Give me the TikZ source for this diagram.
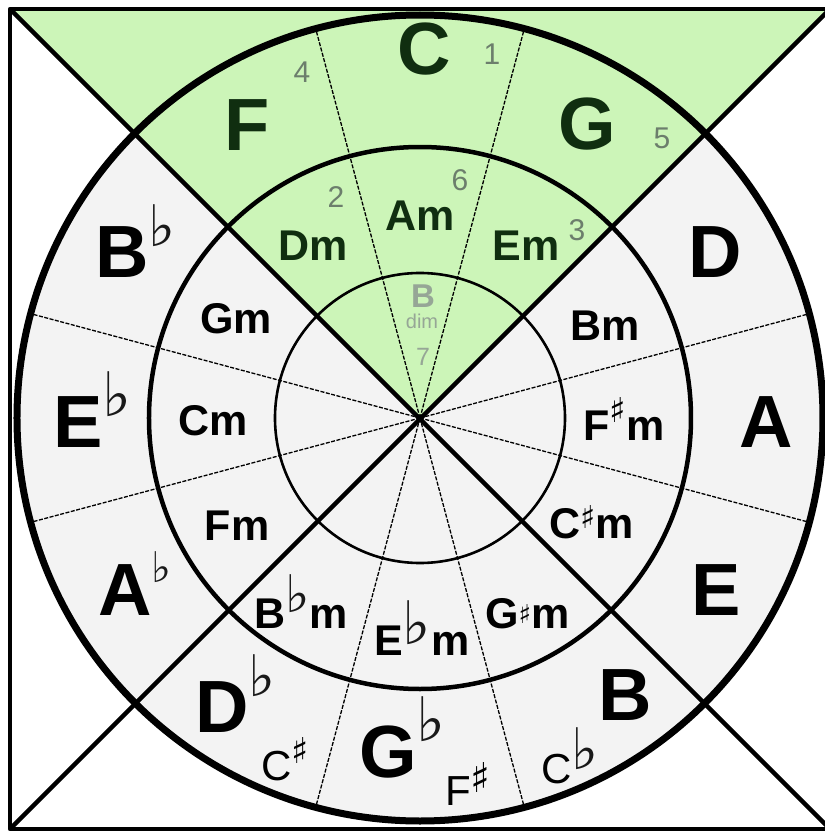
\documentclass[tikz,border=0pt]{standalone}
\usepackage{graphicx}
\usepackage{fontspec}
\setmainfont{Liberation Sans}
\newfontfamily\accfont{DejaVu Sans}
\usetikzlibrary{positioning}
\definecolor{keygreen}{RGB}{204,245,184}
\definecolor{ringgray}{RGB}{243,243,243}
\definecolor{leafdark}{RGB}{16,46,16}
\definecolor{degreegray}{RGB}{108,126,108}
\definecolor{dimgray}{RGB}{150,166,150}

% raised accidentals: #1 bottom above baseline, #2 glyph height
\newcommand{\flatup}[2]{\raisebox{#1}{\resizebox*{!}{#2}{\accfont\color{black!90}\raisebox{\depth}{♭}}}}
\newcommand{\sharpup}[2]{\raisebox{#1}{\resizebox*{!}{#2}{\accfont\raisebox{\depth}{♯}}}}

\tikzset{
  majkey/.style={inner sep=0pt,font=\fontsize{74}{74}\selectfont\bfseries},
  minkey/.style={inner sep=0pt,font=\fontsize{43}{43}\selectfont\bfseries},
  enhkey/.style={inner sep=0pt,font=\fontsize{42}{42}\selectfont},
  degnum/.style={inner sep=0pt,text=degreegray,font=\fontsize{30}{30}\selectfont},
  ray/.style={line width=1.3pt,dash pattern=on 4pt off 1.5pt},
  diag/.style={line width=4.5pt}
}

\begin{document}
\begin{tikzpicture}[x=1pt,y=1pt]
  \useasboundingbox (-420,-413) rectangle (405,418);
  \clip (-420,-413) rectangle (405,418);
  \coordinate (tl) at (-410,409);
  \coordinate (tr) at (410,409);
  \coordinate (bl) at (-410,-411);
  \coordinate (br) at (410,-411);
  \coordinate (hub) at (0,0);

  % backgrounds
  \fill[white] (tl) rectangle (br);
  \fill[ringgray] (hub) circle (403);
  \fill[keygreen] (tl) -- (tr) -- (hub) -- cycle;

  % sector rays
  \foreach \a in {15,75,105,165,195,255,285,345}
    \draw[ray] (hub) -- (\a:403);

  % rings
  \draw[line width=2.6pt] (hub) circle (145);
  \draw[line width=4.5pt] (hub) circle (271);
  \draw[line width=7pt] (hub) circle (403);

  % diagonals and frame
  \draw[diag] (tl) -- (br);
  \draw[diag] (tr) -- (bl);
  \draw[line width=4.5pt,line join=round] (tl) rectangle (br);

  % major keys
  \node[majkey,text=leafdark,anchor=base] (keyC) at (4,344) {C};
  \node[majkey,text=leafdark,anchor=base] (keyF) at (-173,268) {F};
  \node[majkey,text=leafdark,anchor=base] (keyG) at (167,269) {G};
  \node[majkey,anchor=base] (keyD) at (295,141) {D};
  \node[majkey,anchor=base] (keyA) at (346,-29) {A};
  \node[majkey,anchor=base] (keyE) at (296,-197) {E};
  \node[majkey,anchor=base] (keyB) at (205,-302) {B};
  \node[majkey,anchor=base west] (keyBb) at (-325,141) {B\flatup{30pt}{42pt}};
  \node[majkey,anchor=base west] (keyEb) at (-367,-29) {E\flatup{30pt}{45pt}};
  \node[majkey,anchor=base west] (keyAb) at (-322,-197) {A\flatup{32pt}{31pt}};
  \node[majkey,anchor=base west] (keyDb) at (-225,-314) {D\flatup{35pt}{42pt}};
  \node[majkey,anchor=base west] (keyGb) at (-61,-359) {G\flatup{35pt}{45pt}};

  % enharmonic names
  \node[enhkey,anchor=base west] (keyCs) at (-159,-362) {C\sharpup{17pt}{26pt}};
  \node[enhkey,anchor=base west] (keyFs) at (25,-387) {F\sharpup{13pt}{30pt}};
  \node[enhkey,anchor=base west] (keyCb) at (121,-365) {C\flatup{13pt}{42pt}};

  % relative minors
  \node[minkey,text=leafdark,anchor=base] (minDm) at (-107,158) {Dm};
  \node[minkey,text=leafdark,anchor=base] (minAm) at (0,188) {Am};
  \node[minkey,text=leafdark,anchor=base] (minEm) at (106,158) {Em};
  \node[minkey,anchor=base] (minGm) at (-184,85) {Gm};
  \node[minkey,anchor=base] (minBm) at (185,78) {Bm};
  \node[minkey,anchor=base] (minCm) at (-207,-17) {Cm};
  \node[minkey,anchor=base] (minFm) at (-183,-122) {Fm};
  \node[minkey,anchor=base west] (minFsm) at (163,-22) {F\sharpup{18pt}{25pt}m};
  \node[minkey,anchor=base west] (minCsm) at (129,-120) {C\sharpup{10pt}{23pt}m};
  \node[minkey,anchor=base west] (minGsm) at (65,-210) {G\sharpup{5pt}{19pt}m};
  \node[minkey,anchor=base west] (minBbm) at (-166,-210) {B\flatup{15pt}{38pt}m};
  \node[minkey,anchor=base west] (minEbm) at (-46,-237) {E\flatup{10pt}{44pt}m};

  % scale degrees
  \node[degnum,anchor=base] (deg4) at (-118,335) {4};
  \node[degnum,anchor=base] (deg1) at (72,353) {1};
  \node[degnum,anchor=base] (deg5) at (242,270) {5};
  \node[degnum,anchor=base] (deg2) at (-84,211) {2};
  \node[degnum,anchor=base] (deg6) at (40,228) {6};
  \node[degnum,anchor=base] (deg3) at (157,178) {3};
  \node[inner sep=0pt,text=dimgray,font=\fontsize{33}{33}\selectfont\bfseries,anchor=base] (dimB) at (3,111) {B};
  \node[inner sep=0pt,text=dimgray,font=\fontsize{20}{20}\selectfont,anchor=base] (dimtag) at (2,90) {dim};
  \node[inner sep=0pt,text=dimgray,font=\fontsize{25}{25}\selectfont,anchor=base] (deg7) at (3,53) {7};
\end{tikzpicture}
\end{document}
